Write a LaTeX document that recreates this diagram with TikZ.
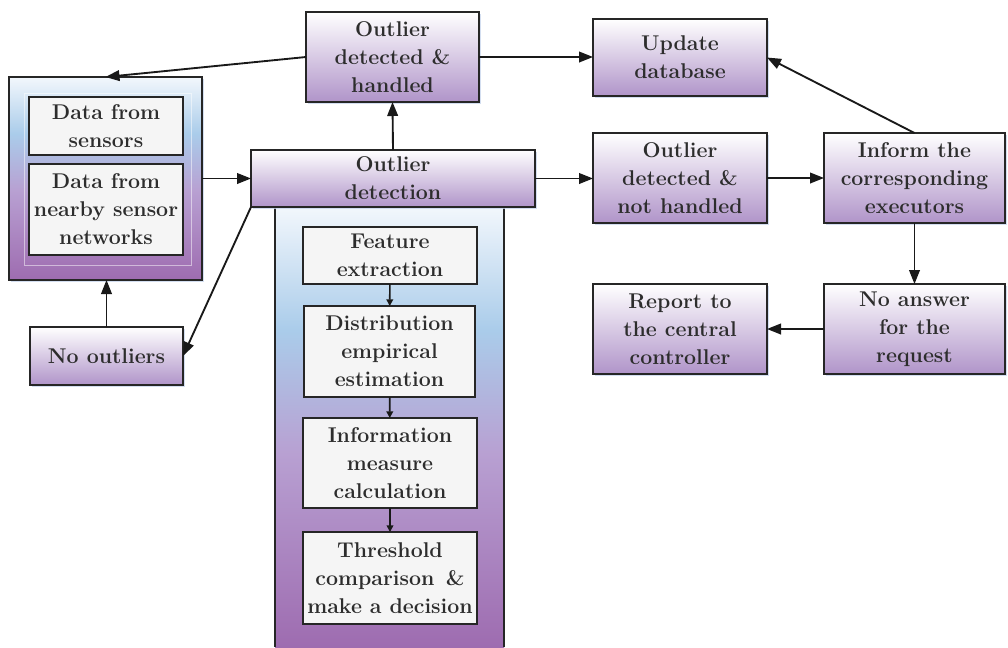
\documentclass[tikz,border=0pt]{standalone}
\usepackage{tikz}
\usetikzlibrary{arrows.meta,shadows}

\definecolor{boxpurple}{RGB}{176,148,201}
\definecolor{panelpurple}{RGB}{158,108,176}
\definecolor{panellav}{RGB}{184,160,210}
\definecolor{panelblue}{RGB}{170,204,234}
\definecolor{panelwhite}{RGB}{242,247,252}
\definecolor{textgray}{RGB}{45,45,45}
\definecolor{shadowblue}{RGB}{200,214,236}

% visible part of a tikz shading runs from 25bp to 75bp
\pgfdeclareverticalshading{panelshade}{100bp}{color(0bp)=(panelpurple); color(25bp)=(panelpurple); color(47bp)=(panellav); color(61bp)=(panelblue); color(75bp)=(panelwhite); color(100bp)=(panelwhite)}

\begin{document}
\begin{tikzpicture}[x=0.75pt,y=-0.75pt,
    font=\bfseries\fontsize{16}{21}\selectfont, text=textgray,
    purplebox/.style={draw=black!85, line width=1.4pt, top color=white, bottom color=boxpurple,
        align=center, inner sep=1pt, outer sep=0pt,
        drop shadow={shadow xshift=1.5pt, shadow yshift=-1.5pt, fill=shadowblue, opacity=0.8}},
    whitebox/.style={draw=black!85, line width=1.4pt, fill=black!4, align=center,
        inner sep=1pt, outer sep=0pt},
    panel/.style={shading=panelshade, outer sep=0pt, inner sep=0pt},
    link/.style={line width=1.4pt, black!90, -{Triangle[length=10.5pt,width=8pt]}},
    smalllink/.style={line width=1.2pt, black!90, -{Triangle[length=5pt,width=5pt]}}]

    \useasboundingbox (0,0) rectangle (1008,647);

    % Background panels
    \node[panel, draw=black!85, line width=1.4pt, minimum width=144.75pt, minimum height=152.25pt,
        drop shadow={shadow xshift=1.5pt, shadow yshift=-1.5pt, fill=shadowblue, opacity=0.8}] (leftpanel) at (105.5,178.5) {};
    \draw[white, opacity=0.5, line width=0.6pt] (24,93) rectangle (191,265);
    \node[panel, minimum width=171.75pt, minimum height=330pt] (column) at (389.5,427) {};
    \draw[black!85, line width=1.4pt] (column.north west) -- (column.south west)
        (column.north east) -- (column.south east);

    % Left side
    \node[whitebox, minimum width=115.5pt, minimum height=43.5pt] (sensors) at (106,126) {Data from\\sensors};
    \node[whitebox, minimum width=115.5pt, minimum height=68.25pt] (nearby) at (106,209.5) {Data from\\nearby sensor\\networks};
    \node[purplebox, minimum width=114.75pt, minimum height=43.5pt] (nooutliers) at (106.5,356) {No outliers};

    % Middle
    \node[purplebox, minimum width=129.75pt, minimum height=67.5pt] (handled) at (392.5,57) {Outlier\\detected \&\\handled};
    \node[purplebox, minimum width=213pt, minimum height=42.75pt] (detection) at (393,178.5) {Outlier\\detection};

    % Steps inside the detection column
    \node[whitebox, minimum width=130.5pt, minimum height=42.75pt] (feature) at (390,255.5) {Feature\\extraction};
    \node[whitebox, minimum width=128.25pt, minimum height=68.25pt] (distribution) at (389.5,351.5) {Distribution\\empirical\\estimation};
    \node[whitebox, minimum width=130.5pt, minimum height=67.5pt] (information) at (390,463) {Information\\measure\\calculation};
    \node[whitebox, minimum width=130.5pt, minimum height=69pt] (threshold) at (390,578) {Threshold\\comparison~\,\&\\make a decision};

    % Right side
    \node[purplebox, minimum width=130.5pt, minimum height=57.75pt] (update) at (680,57.5) {Update\\database};
    \node[purplebox, minimum width=130.5pt, minimum height=67.5pt] (nothandled) at (680,178) {Outlier\\detected \&\\not handled};
    \node[purplebox, minimum width=135.75pt, minimum height=67.5pt] (inform) at (914.5,178) {Inform the\\corresponding\\executors};
    \node[purplebox, minimum width=135.75pt, minimum height=67.5pt] (noanswer) at (914.5,329) {No answer\\for the\\request};
    \node[purplebox, minimum width=130.5pt, minimum height=67.5pt] (report) at (680,329) {Report to\\the central\\controller};

    % Connectors
    \draw[link] (leftpanel.east |- detection.west) -- (detection.west);
    \draw[link] (nooutliers.north) -- (nooutliers.north |- leftpanel.south);
    \draw[link] (detection.south west) -- (nooutliers.east);
    \draw[link] (detection.north) -- (handled.south);
    \draw[link] (handled.west) -- (leftpanel.north);
    \draw[link] (handled.east) -- (handled.east -| update.west);
    \draw[link] (detection.east) -- (detection.east -| nothandled.west);
    \draw[link] (nothandled.east) -- (inform.west);
    \draw[link] (inform.north) -- (update.east);
    \draw[link] (inform.south) -- (noanswer.north);
    \draw[link] (noanswer.west) -- (report.east);

    \draw[smalllink] (feature) -- (distribution);
    \draw[smalllink] (distribution) -- (information);
    \draw[smalllink] (information) -- (threshold);

\end{tikzpicture}
\end{document}
